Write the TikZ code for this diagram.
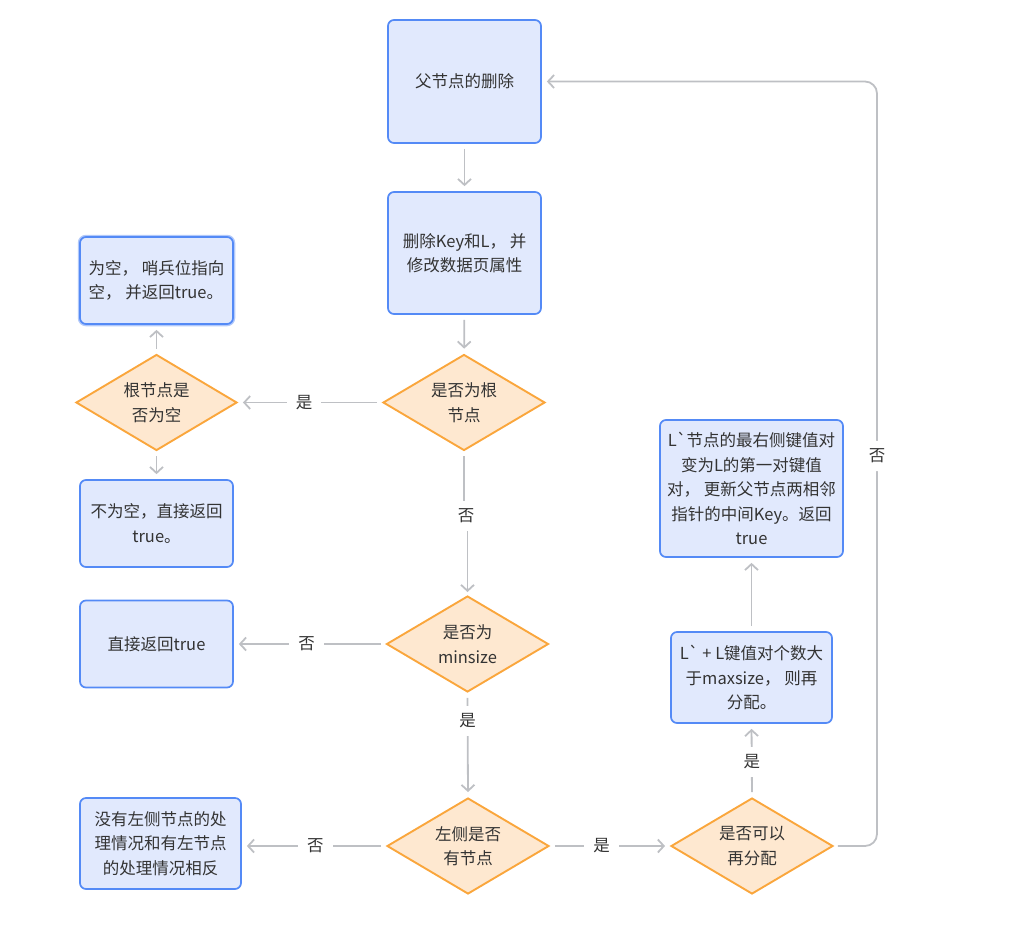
\documentclass[tikz,border=0pt]{standalone}
\usepackage{fontspec}
\setmainfont{Noto Sans CJK SC}[Ligatures=TeXOff]
\usepackage{tikz}
\usetikzlibrary{shapes.geometric, arrows.meta}

\definecolor{boxfill}{RGB}{225,233,253}
\definecolor{boxline}{RGB}{84,138,246}
\definecolor{boxglow}{RGB}{178,201,250}
\definecolor{decfill}{RGB}{254,232,208}
\definecolor{decline}{RGB}{250,166,60}
\definecolor{flowline}{RGB}{190,192,196}
\definecolor{txt}{RGB}{51,51,51}

\begin{document}
\begin{tikzpicture}[x=1pt,y=1pt,yscale=-1,
  every node/.style={font=\fontsize{16.5}{24.5}\selectfont, text=txt},
  procbox/.style={draw=boxline, line width=1.7pt, fill=boxfill, rounded corners=6pt, align=center, inner sep=0pt},
  selbox/.style={procbox, preaction={draw=boxglow, line width=4.5pt}},
  decision/.style={diamond, draw=decline, line width=1.9pt, fill=decfill, align=center, inner sep=0pt, aspect=1.7, minimum width=162pt, minimum height=96pt},
  flow/.style={draw=flowline, line width=1.8pt, -{Straight Barb[length=6pt,width=13pt]}, shorten >=5pt, shorten <=5pt},
  answer/.style={fill=white, inner xsep=9pt, inner ysep=8pt}]
\useasboundingbox (0,0) rectangle (1027,951);

% Process boxes
\node[procbox, minimum width=153pt, minimum height=123pt] (del) at (464.5,81.5) {父节点的删除};
\node[procbox, minimum width=153pt, minimum height=122pt] (rmkey) at (464.5,253) {删除Key和L， 并\\修改数据页属性};
\node[selbox, minimum width=153pt, minimum height=87pt, align=left] (empty) at (156.5,280.5) {为空， 哨兵位指向\\空， 并返回true。};
\node[procbox, minimum width=153pt, minimum height=87pt] (notempty) at (156.5,523.5) {不为空，直接返回\\true。};
\node[procbox, minimum width=153pt, minimum height=87pt] (direct) at (156.5,644) {直接返回true};
\node[procbox, minimum width=161pt, minimum height=91pt] (noleft) at (160.5,843.5) {没有左侧节点的处\\理情况和有左节点\\的处理情况相反};
\node[procbox, minimum width=161pt, minimum height=91pt] (redist) at (751.5,677.5) {L` + L键值对个数大\\于maxsize， 则再\\分配。};
\node[procbox, minimum width=183pt, minimum height=137pt] (merge) at (751.5,488.5) {L`节点的最右侧键值对\\变为L的第一对键值\\对， 更新父节点两相邻\\指针的中间Key。返回\\true};

% Decisions
\node[decision] (isroot) at (464,402.5) {是否为根\\节点};
\node[decision, minimum width=161pt] (rootempty) at (156.5,402.5) {根节点是\\否为空};
\node[decision] (ismin) at (467.5,644) {是否为\\minsize};
\node[decision] (hasleft) at (468,846) {左侧是否\\有节点};
\node[decision] (canre) at (752,846) {是否可以\\再分配};

\coordinate (jog) at (466,516);
\coordinate (looptop) at (877,81.5);

% Connectors
\draw[flow] (del) -- (rmkey);
\draw[flow] (rmkey) -- (isroot);
\draw[flow] (isroot.west) -- node[answer, pos=0.54] (yes1) {是} (rootempty.east);
\draw[flow] (rootempty.north) -- (empty.south);
\draw[flow] (rootempty.south) -- (notempty.north);
\draw[flow, shorten >=3pt] (isroot.south) |- (jog) -| (ismin.north);
\node[answer] (no1) at (jog) {否};
\draw[flow] (ismin.west) -- node[answer, pos=0.52] (no2) {否} (direct.east);
\draw[flow] (ismin.south) -- node[answer, pos=0.27] (yes2) {是} (hasleft.north);
\draw[flow] (hasleft.west) -- node[answer, pos=0.49] (no3) {否} (hasleft.west -| noleft.east);
\draw[flow] (hasleft.east) -- node[answer, pos=0.43] (yes3) {是} (canre.west);
\draw[flow] (canre.north) -- node[answer, pos=0.48] (yes4) {是} (redist.south);
\draw[flow] (redist.north) -- (merge.south);
\draw[flow, rounded corners=12pt, shorten <=4pt] (canre.east) -| node[answer, pos=0.755] (no4) {否} (looptop) -- (del.east);

\end{tikzpicture}
\end{document}
